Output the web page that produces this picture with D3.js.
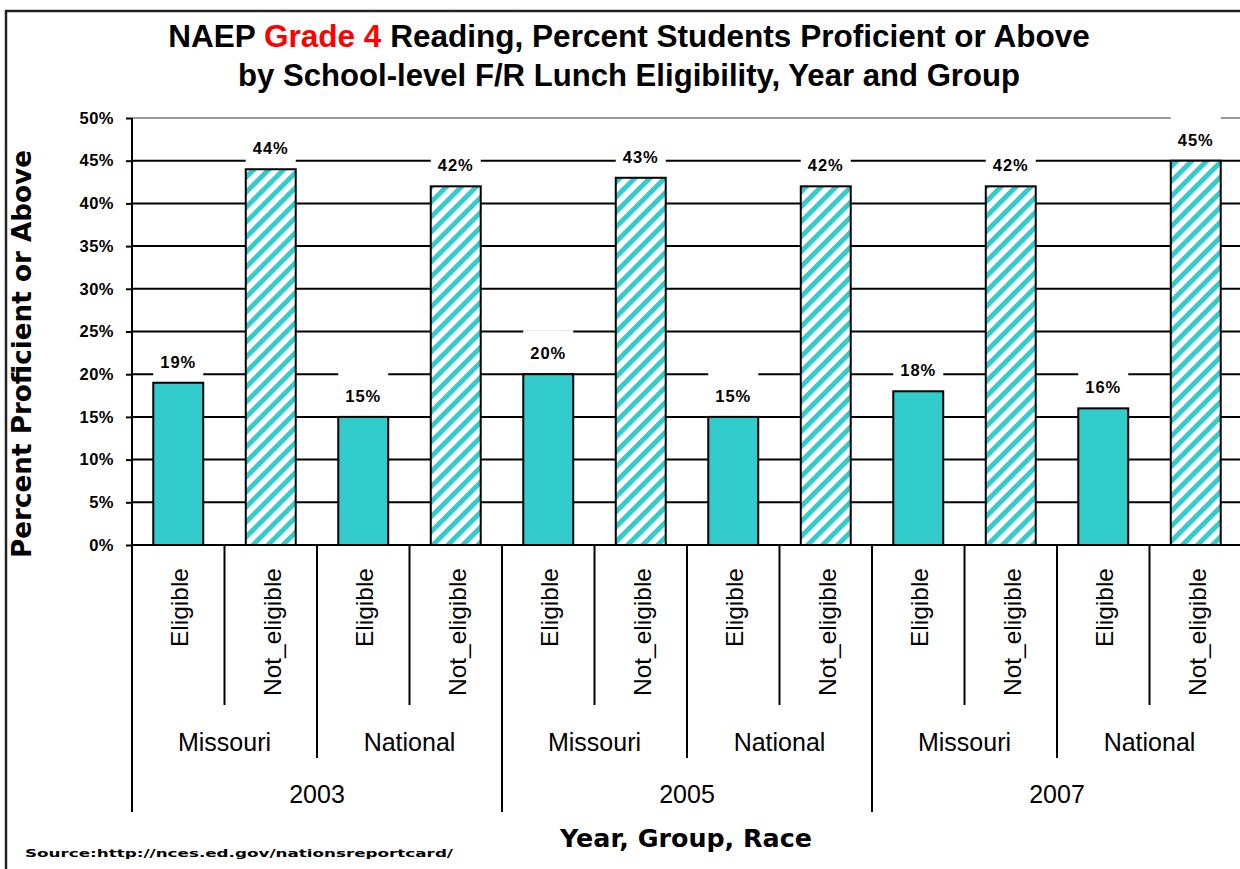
<!DOCTYPE html>
<html><head><meta charset="utf-8">
<script src="https://cdn.jsdelivr.net/npm/d3@7"></script>
<style>body{margin:0;background:#fff}svg{display:block}</style>
</head><body>
<script>
const years = ["2003","2005","2007"];
const groups = ["Missouri","National"];
const statuses = ["Eligible","Not_eligible"];
const values = [19,44,15,42,20,43,15,42,18,42,16,45];
const yTicks = [0,5,10,15,20,25,30,35,40,45,50];

const W=1240,H=869;
const svg=d3.select("body").append("svg").attr("width",W).attr("height",H);
const defs=svg.append("defs");
const pat=defs.append("pattern").attr("id","hatch").attr("patternUnits","userSpaceOnUse")
  .attr("width",10.6).attr("height",10.6).attr("patternTransform","rotate(45)");
pat.append("rect").attr("width",10.6).attr("height",10.6).attr("fill","#fff");
pat.append("rect").attr("width",5).attr("height",10.6).attr("fill","#33CCCC");

// frame
svg.append("rect").attr("x",6).attr("y",11).attr("width",1300).attr("height",900)
  .attr("fill","none").attr("stroke","#222").attr("stroke-width",2.5);

const cats=[];
years.forEach(y=>groups.forEach(g=>statuses.forEach(s=>cats.push({y,g,s}))));
cats.forEach((c,i)=>c.v=values[i]);

const x=d3.scaleBand().domain(d3.range(cats.length)).range([132,1242]).paddingInner(0.46).paddingOuter(0.23);
const y=d3.scaleLinear().domain([0,50]).range([545,118]);
const step=x.step(), x0=132;

function fit(sel,target){const n=sel.node();const fs=parseFloat(sel.attr("font-size"));const w=n.getComputedTextLength();sel.attr("font-size",fs*target/w);}

// title
const t1=svg.append("text").attr("x",629).attr("y",47).attr("text-anchor","middle")
 .attr("font-family","Liberation Sans, Arial").attr("font-weight","bold").attr("font-size",26);
t1.append("tspan").text("NAEP ");
t1.append("tspan").attr("fill","#FF0000").text("Grade 4");
t1.append("tspan").text(" Reading, Percent Students Proficient or Above");
fit(t1,922);
const t2=svg.append("text").attr("x",629).attr("y",86).attr("text-anchor","middle")
 .attr("font-family","Liberation Sans, Arial").attr("font-weight","bold").attr("font-size",26)
 .text("by School-level F/R Lunch Eligibility, Year and Group");
fit(t2,782);

// gridlines
svg.append("g").selectAll("line").data(yTicks.filter(d=>d>0)).join("line")
 .attr("x1",x0).attr("x2",1242).attr("y1",d=>y(d)).attr("y2",d=>y(d))
 .attr("stroke",d=>d===50?"#999":"#000").attr("stroke-width",2);

// label boxes
svg.append("g").selectAll("rect").data(cats).join("rect")
 .attr("x",(d,i)=>x(i)+x.bandwidth()/2-25).attr("width",50)
 .attr("y",d=>y(d.v)-44).attr("height",40).attr("fill","#fff");

// bars
svg.append("g").selectAll("rect").data(cats).join("rect")
 .attr("x",(d,i)=>x(i)).attr("width",x.bandwidth())
 .attr("y",d=>y(d.v)).attr("height",d=>y(0)-y(d.v))
 .attr("fill",d=>d.s==="Eligible"?"#33CCCC":"url(#hatch)")
 .attr("stroke","#000").attr("stroke-width",2);

// bar labels
svg.append("g").selectAll("text").data(cats).join("text")
 .attr("x",(d,i)=>x(i)+x.bandwidth()/2).attr("y",d=>y(d.v)-15)
 .attr("text-anchor","middle").attr("font-family","Liberation Sans, Arial").attr("font-weight","bold")
 .attr("font-size",16.5).attr("letter-spacing",1).text(d=>d.v+"%");

// y axis
const ya=svg.append("g").attr("transform",`translate(${x0},0)`)
 .call(d3.axisLeft(y).tickValues(yTicks).tickSize(6).tickFormat(d=>d+"%"));
ya.select(".domain").attr("stroke","#000").attr("stroke-width",2).attr("d",`M0,${y(50)}V${y(0)}`);
ya.selectAll(".tick line").attr("stroke","#000").attr("stroke-width",2);
ya.selectAll(".tick text").attr("x",-18).attr("font-family","Liberation Sans, Arial").attr("font-weight","bold")
 .attr("font-size",16.5).attr("letter-spacing",0.5).attr("fill","#000");

// x axis line
svg.append("line").attr("x1",x0).attr("x2",1242).attr("y1",y(0)).attr("y2",y(0)).attr("stroke","#000").attr("stroke-width",2);

// separators
const seps=[];
for(let k=0;k<=cats.length;k++){
  let len;
  if(k%4===0) len=812; else if(k%2===0) len=758; else len=705;
  seps.push({x:x0+k*step,y2:len});
}
svg.append("g").selectAll("line").data(seps).join("line")
 .attr("x1",d=>d.x).attr("x2",d=>d.x).attr("y1",y(0)).attr("y2",d=>d.y2)
 .attr("stroke","#000").attr("stroke-width",2);

const font="Liberation Sans, Arial";
// status labels
svg.append("g").selectAll("text").data(cats).join("text")
 .attr("transform",(d,i)=>`translate(${x(i)+x.bandwidth()/2+10},568) rotate(-90)`)
 .attr("text-anchor","end").attr("font-family",font).attr("font-size",24.5).text(d=>d.s);
// group labels
const grp=[];years.forEach((yy,yi)=>groups.forEach((g,gi)=>grp.push({g,c:x0+(yi*4+gi*2+1)*step})));
svg.append("g").selectAll("text").data(grp).join("text")
 .attr("x",d=>d.c).attr("y",751).attr("text-anchor","middle").attr("font-family",font).attr("font-size",25).text(d=>d.g);
// year labels
svg.append("g").selectAll("text").data(years).join("text")
 .attr("x",(d,i)=>x0+(i*4+2)*step).attr("y",803).attr("text-anchor","middle").attr("font-family",font).attr("font-size",25).text(d=>d);

// axis titles
const yt=svg.append("text").attr("transform","translate(31,354) rotate(-90)").attr("text-anchor","middle")
 .attr("font-family","DejaVu Sans").attr("font-weight","bold").attr("font-size",20)
 .text("Percent Proficient or Above");
fit(yt,408);
const xt=svg.append("text").attr("x",686).attr("y",847).attr("text-anchor","middle")
 .attr("font-family","DejaVu Sans").attr("font-weight","bold").attr("font-size",20)
 .text("Year, Group, Race");
fit(xt,252);

// source
svg.append("text").attr("x",25).attr("y",857).attr("font-family","DejaVu Sans").attr("font-weight","bold")
 .attr("font-size",11).attr("textLength",428).attr("lengthAdjust","spacingAndGlyphs")
 .text("Source:http://nces.ed.gov/nationsreportcard/");
</script>
</body></html>
